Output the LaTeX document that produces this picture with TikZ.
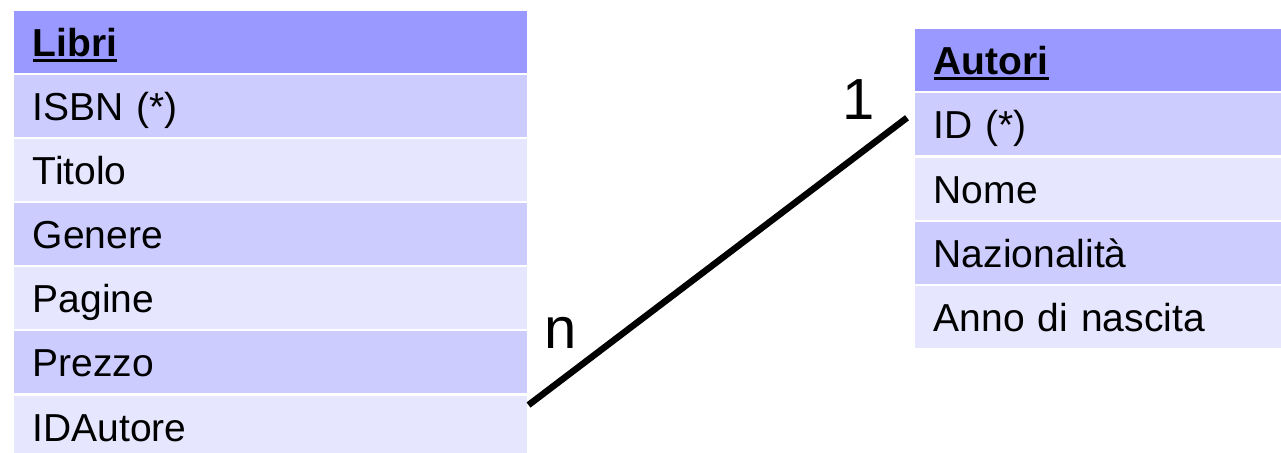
\documentclass[tikz,border=0pt]{standalone}
\usepackage{fontspec}
\setmainfont{Liberation Sans}
\usetikzlibrary{calc}
\definecolor{hdr}{HTML}{9999FF}
\definecolor{dk}{HTML}{CCCCFF}
\definecolor{lt}{HTML}{E6E6FF}
\tikzset{
  cell/.style={rectangle, draw=white, line width=1.5pt, anchor=north west, inner xsep=20pt, inner ysep=0pt,
    align=left, text height=28.6pt, text depth=0pt, font=\fontsize{39}{46}\selectfont},
  lcell/.style={cell, text width=475pt, minimum height=64pt},
  rcell/.style={cell, text width=400pt, minimum height=64pt},
  mult/.style={font=\fontsize{58}{66}\selectfont, inner sep=0pt, anchor=base west},
  link/.style={line width=6.5pt, black}
}
\newcommand{\hd}[1]{\setbox0\hbox{\textbf{#1}}\rlap{\rule[-5pt]{\wd0}{3pt}}\box0}
\begin{document}
\begin{tikzpicture}[x=1pt,y=-1pt]
\useasboundingbox (0,0) rectangle (1281,452);
\clip (0,0) rectangle (1281,452);
% Libri
\node[lcell, fill=hdr, minimum height=63pt] (libri) at (12,10) {\hd{Libri}};
\node[lcell, fill=dk] (isbn) at (12,73) {ISBN (*)};
\node[lcell, fill=lt] (titolo) at (12,137) {Titolo};
\node[lcell, fill=dk] (genere) at (12,201) {Genere};
\node[lcell, fill=lt] (pagine) at (12,265) {Pagine};
\node[lcell, fill=dk] (prezzo) at (12,329) {Prezzo};
\node[lcell, fill=lt, minimum height=64pt] (idautore) at (12,394) {IDAutore};
% Autori
\node[rcell, fill=hdr, minimum height=63pt] (autori) at (913,28) {\hd{Autori}};
\node[rcell, fill=dk] (id) at (913,91) {ID (*)};
\node[rcell, fill=lt] (nome) at (913,156) {Nome};
\node[rcell, fill=dk] (naz) at (913,220) {Nazionalità};
\node[rcell, fill=lt] (anno) at (913,284) {Anno di nascita};
% link
\coordinate (a) at ($(idautore.north east)+(0,11)$);
\coordinate (b) at ($(id.west)+(-6,-6)$);
\draw[link] (a) -- (b);
\node[mult] (n) at (544,348) {n};
\node[mult] (one) at (842,119) {1};
\end{tikzpicture}
\end{document}
